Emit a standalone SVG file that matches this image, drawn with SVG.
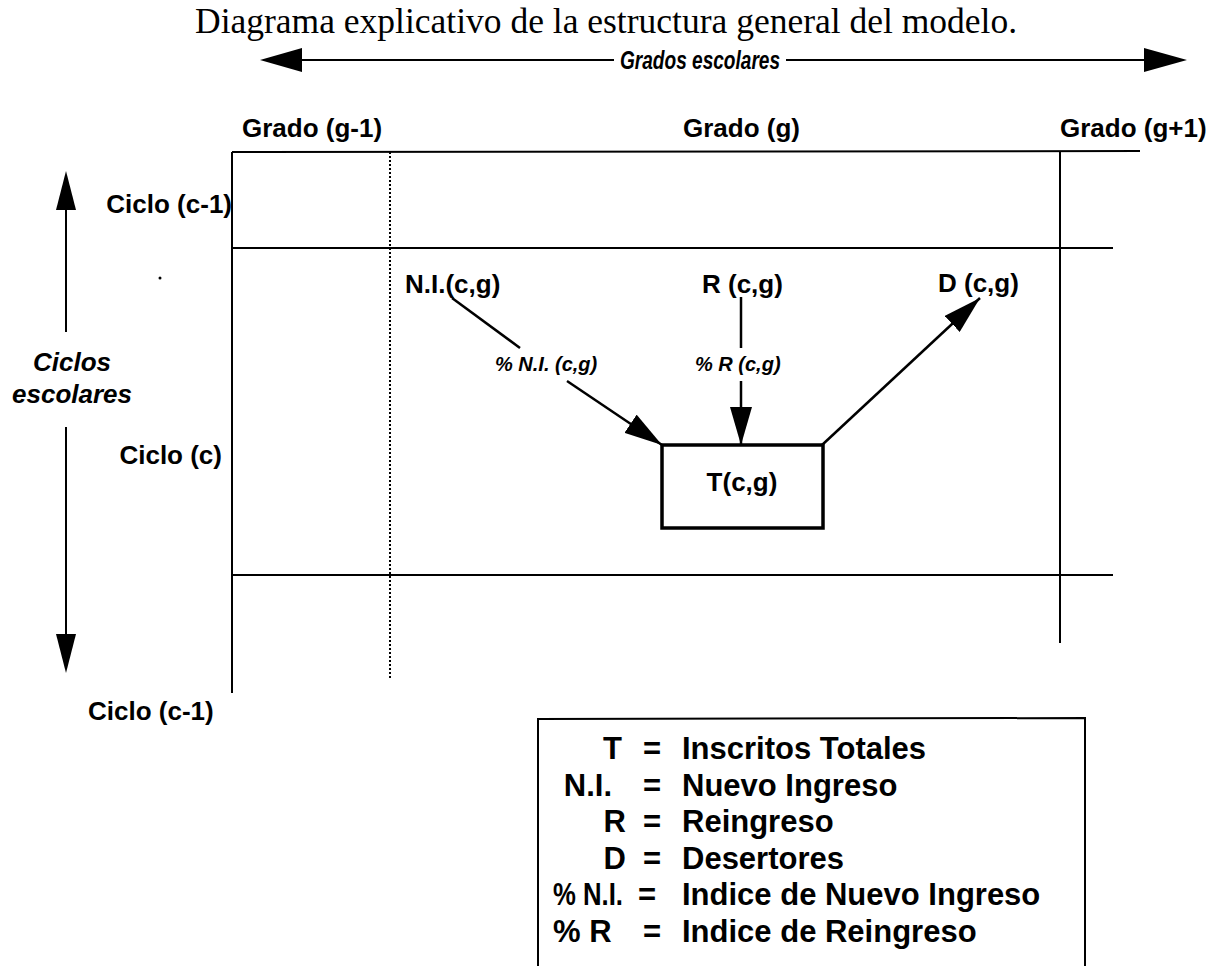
<svg xmlns="http://www.w3.org/2000/svg" width="1224" height="966" viewBox="0 0 1224 966">
<style>
.lbl{font-family:"Liberation Sans",Arial,sans-serif;font-weight:bold;font-size:26px;fill:#000}
.it{font-style:italic}
.sm{font-size:20px}
.leg{font-family:"Liberation Sans",Arial,sans-serif;font-weight:bold;font-size:31px;fill:#000}
.ln{stroke:#000;stroke-width:2;fill:none}
.conn{stroke:#000;stroke-width:2.5;fill:none}
</style>
<defs>
<marker id="ah" markerUnits="userSpaceOnUse" markerWidth="38" markerHeight="22" refX="38" refY="11" orient="auto">
<path d="M0,0 L38,11 L0,22 z" fill="#000"/>
</marker>
</defs>
<rect width="1224" height="966" fill="#fff"/>
<text x="195" y="33" font-family="Liberation Serif,'Times New Roman',serif" font-size="35.5">Diagrama explicativo de la estructura general del modelo.</text>
<g id="grados-axis">
<polygon points="260,60 302,48 302,72" fill="#000"/>
<line class="ln" x1="300" y1="60" x2="614" y2="60"/>
<text class="lbl it" x="620" y="69" font-size="24" textLength="160" lengthAdjust="spacingAndGlyphs">Grados escolares</text>
<line class="ln" x1="786" y1="60" x2="1146" y2="60"/>
<polygon points="1187,60 1144,48 1144,72" fill="#000"/>
</g>
<g id="col-labels">
<text class="lbl" x="242" y="137">Grado (g-1)</text>
<text class="lbl" x="683" y="137">Grado (g)</text>
<text class="lbl" x="1060" y="137">Grado (g+1)</text>
</g>
<g id="grid">
<line class="ln" x1="232" y1="152" x2="1140" y2="151"/>
<line class="ln" x1="232" y1="152" x2="232" y2="693"/>
<line class="ln" x1="390" y1="152" x2="390" y2="680" stroke-dasharray="2,2"/>
<line class="ln" x1="1060" y1="151" x2="1060" y2="643"/>
<line class="ln" x1="232" y1="248" x2="1113" y2="248"/>
<line class="ln" x1="232" y1="575" x2="1113" y2="575"/>
</g>
<g id="ciclos-axis">
<polygon points="66,171 56,210 76,210" fill="#000"/>
<line class="ln" x1="66" y1="208" x2="66" y2="332"/>
<text class="lbl it" x="72" y="371" text-anchor="middle">Ciclos</text>
<text class="lbl it" x="72" y="403" text-anchor="middle">escolares</text>
<line class="ln" x1="66" y1="427" x2="66" y2="637"/>
<polygon points="66,673 56,634 76,634" fill="#000"/>
<circle cx="160" cy="278" r="1.5" fill="#000"/>
</g>
<g id="row-labels">
<text class="lbl" x="232" y="213" text-anchor="end">Ciclo (c-1)</text>
<text class="lbl" x="222" y="464" text-anchor="end">Ciclo (c)</text>
<text class="lbl" x="88" y="720">Ciclo (c-1)</text>
</g>
<g id="node-NI"><text class="lbl" x="405" y="293">N.I.(c,g)</text></g>
<g id="node-R"><text class="lbl" x="702" y="293">R (c,g)</text></g>
<g id="node-D"><text class="lbl" x="938" y="292">D (c,g)</text></g>
<g id="node-T">
<rect x="662" y="445" width="161" height="83" fill="#fff" stroke="#000" stroke-width="3.5"/>
<text class="lbl" x="742" y="491" text-anchor="middle">T(c,g)</text>
</g>
<g id="connectors">
<line class="conn" x1="452" y1="298" x2="520" y2="348"/>
<text class="lbl it sm" x="495" y="371">% N.I. (c,g)</text>
<line class="conn" x1="567" y1="381" x2="662" y2="445" marker-end="url(#ah)"/>
<line class="conn" x1="741" y1="297" x2="741" y2="348"/>
<text class="lbl it sm" x="695" y="371">% R (c,g)</text>
<line class="conn" x1="741" y1="381" x2="741" y2="445" marker-end="url(#ah)"/>
<line class="conn" x1="822" y1="445" x2="980" y2="298" marker-end="url(#ah)"/>
</g>
<g id="legend">
<polyline class="ln" points="538,966 538,719 1085,718 1085,966"/>
<text class="leg" x="622" y="759" text-anchor="end">T</text>
<text class="leg" x="612" y="795.5" text-anchor="end">N.I.</text>
<text class="leg" x="626" y="832" text-anchor="end">R</text>
<text class="leg" x="626" y="868.5" text-anchor="end">D</text>
<text class="leg" x="553" y="905" textLength="70" lengthAdjust="spacingAndGlyphs">% N.I.</text>
<text class="leg" x="553" y="941.5">% R</text>
<text class="leg" x="652" y="759" text-anchor="middle">=</text>
<text class="leg" x="652" y="795.5" text-anchor="middle">=</text>
<text class="leg" x="652" y="832" text-anchor="middle">=</text>
<text class="leg" x="652" y="868.5" text-anchor="middle">=</text>
<text class="leg" x="647" y="905" text-anchor="middle">=</text>
<text class="leg" x="652" y="941.5" text-anchor="middle">=</text>
<text class="leg" x="682" y="759">Inscritos Totales</text>
<text class="leg" x="682" y="795.5">Nuevo Ingreso</text>
<text class="leg" x="682" y="832">Reingreso</text>
<text class="leg" x="682" y="868.5">Desertores</text>
<text class="leg" x="682" y="905">Indice de Nuevo Ingreso</text>
<text class="leg" x="682" y="941.5">Indice de Reingreso</text>
</g>
</svg>
